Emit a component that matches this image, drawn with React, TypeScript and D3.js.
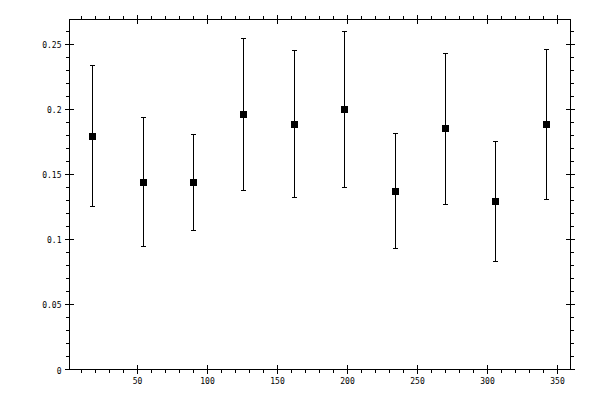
import React from "react";
import * as d3 from "d3";

const width = 600;
const height = 400;
const plot = { left: 69.5, right: 570.5, top: 19.5, bottom: 369.5 }; // axis frame in px

// data (bin centres in degrees)
const angles = [18, 54, 90, 126, 162, 198, 234, 270, 306, 342];
const values = [0.179, 0.144, 0.144, 0.196, 0.1885, 0.2, 0.137, 0.1855, 0.129, 0.1885];
const lower = [0.125, 0.0945, 0.107, 0.1375, 0.1325, 0.14, 0.093, 0.127, 0.083, 0.131];
const upper = [0.2335, 0.1935, 0.181, 0.2545, 0.2455, 0.26, 0.1815, 0.243, 0.1755, 0.246];

const xMajor = [50, 100, 150, 200, 250, 300, 350];
const yMajor = [0, 0.05, 0.1, 0.15, 0.2, 0.25];
const yLabels = ["0", "0.05", "0.1", "0.15", "0.2", "0.25"];

const font = "'DejaVu Sans Mono', monospace";
const majorLen = 4.5;
const minorLen = 3.5;
const markerSize = 7;
const capHalf = 2.5;

const x = d3.scaleLinear().domain([1.4, 359.3]).range([plot.left, plot.right]);
const y = d3.scaleLinear().domain([0, 0.2692]).range([plot.bottom, plot.top]);

const xMinor = d3.range(10, 360, 10).filter((v) => v % 50 !== 0);
const yMinor = d3.range(1, 27).map((i) => i / 100).filter((_, i) => (i + 1) % 5 !== 0);

const App = () => {
  const px = (v: number) => Math.round(x(v) - 0.5) + 0.5;
  const py = (v: number) => Math.round(y(v) - 0.5) + 0.5;

  return (
    <svg
      width={width}
      height={height}
      style={{ position: "fixed", left: 0, top: 0, background: "#fff" }}
      shapeRendering="crispEdges"
    >
      <rect x={0} y={0} width={width} height={height} fill="#fff" />
      <g stroke="#000" strokeWidth={1} fill="none">
        <rect
          x={plot.left}
          y={plot.top}
          width={plot.right - plot.left}
          height={plot.bottom - plot.top}
        />
        {/* x ticks, bottom and top */}
        {xMajor.map((v) => (
          <g key={"xM" + v}>
            <line x1={px(v)} x2={px(v)} y1={plot.bottom - majorLen} y2={plot.bottom + majorLen} />
            <line x1={px(v)} x2={px(v)} y1={plot.top - majorLen} y2={plot.top + majorLen} />
          </g>
        ))}
        {xMinor.map((v) => (
          <g key={"xm" + v}>
            <line x1={px(v)} x2={px(v)} y1={plot.bottom} y2={plot.bottom + minorLen} />
            <line x1={px(v)} x2={px(v)} y1={plot.top - minorLen} y2={plot.top} />
          </g>
        ))}
        {/* y ticks, left and right */}
        {yMajor.map((v) => (
          <g key={"yM" + v}>
            <line x1={plot.left - majorLen} x2={plot.left + majorLen} y1={py(v)} y2={py(v)} />
            <line x1={plot.right - majorLen} x2={plot.right + majorLen} y1={py(v)} y2={py(v)} />
          </g>
        ))}
        {yMinor.map((v) => (
          <g key={"ym" + v}>
            <line x1={plot.left - minorLen} x2={plot.left} y1={py(v)} y2={py(v)} />
            <line x1={plot.right} x2={plot.right + minorLen} y1={py(v)} y2={py(v)} />
          </g>
        ))}
        {/* error bars */}
        {angles.map((a, i) => (
          <g key={"e" + a}>
            <line x1={px(a)} x2={px(a)} y1={py(lower[i])} y2={py(upper[i])} />
            <line x1={px(a) - capHalf} x2={px(a) + capHalf} y1={py(lower[i])} y2={py(lower[i])} />
            <line x1={px(a) - capHalf} x2={px(a) + capHalf} y1={py(upper[i])} y2={py(upper[i])} />
          </g>
        ))}
      </g>
      {angles.map((a, i) => (
        <rect
          key={"m" + a}
          x={Math.round(x(a) - markerSize / 2)}
          y={Math.round(y(values[i]) - markerSize / 2)}
          width={markerSize}
          height={markerSize}
          fill="#000"
        />
      ))}
      <g fontFamily={font} fontSize={8} fill="#000">
        {xMajor.map((v) => (
          <text key={"xl" + v} x={x(v)} y={383.5} textAnchor="middle">
            {v}
          </text>
        ))}
        {yMajor.map((v, i) => (
          <text key={"yl" + v} x={61.5} y={y(v) + 4} textAnchor="end">
            {yLabels[i]}
          </text>
        ))}
      </g>
    </svg>
  );
};

export default App;
